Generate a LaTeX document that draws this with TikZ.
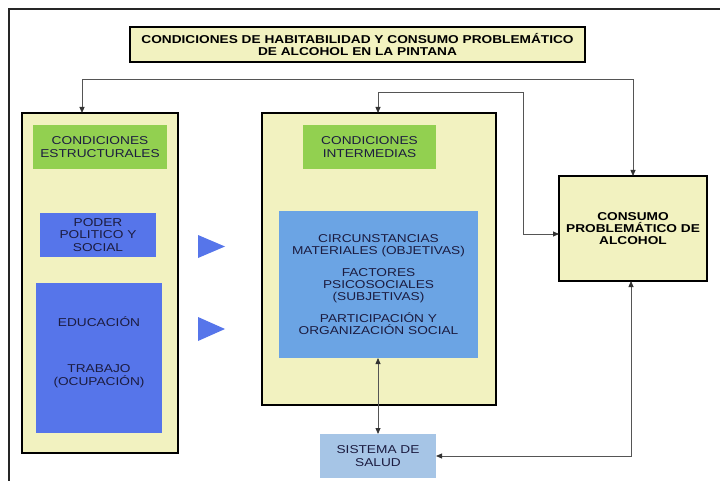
\documentclass[tikz,border=0pt]{standalone}
\usepackage{fontspec}
\setmainfont{Liberation Sans}[FakeStretch=1.2]
\usetikzlibrary{arrows.meta}

\definecolor{paleyellow}{HTML}{F2F2C0}
\definecolor{leafgreen}{HTML}{92D050}
\definecolor{royalblue}{HTML}{5675EA}
\definecolor{skyblue}{HTML}{6BA4E4}
\definecolor{mistblue}{HTML}{A6C5E6}
\definecolor{navytext}{HTML}{1C1C40}
\definecolor{wiregray}{HTML}{555555}

\begin{document}
\begin{tikzpicture}[x=1pt,y=-1pt,
  every node/.style={inner sep=0pt, outer sep=0pt, align=center,
    font=\fontsize{11.4pt}{12.4pt}\selectfont},
  panel/.style={draw=black, line width=2.6pt, fill=paleyellow},
  headbox/.style={fill=leafgreen, text=navytext},
  factbox/.style={fill=royalblue, text=navytext},
  midbox/.style={fill=skyblue, text=navytext},
  healthbox/.style={fill=mistblue, text=navytext},
  boldtext/.style={font=\fontsize{11.4pt}{12.4pt}\selectfont\bfseries},
  pointer/.style={fill=royalblue},
  conn/.style={draw=wiregray, line width=0.8pt,
    {Triangle[length=6pt,width=5pt,color=black!80]}-{Triangle[length=6pt,width=5pt,color=black!80]}}
]
\useasboundingbox (0,0) rectangle (720,481);

% page frame
\draw[line width=2pt, black!85] (9,481) -- (9,9) -- (720,9);

% title
\node[draw=black, line width=2pt, fill=paleyellow, boldtext,
      minimum width=455pt, minimum height=35pt] (title) at (357.5,44.5)
  {CONDICIONES DE HABITABILIDAD Y CONSUMO PROBLEMÁTICO\\DE ALCOHOL EN LA PINTANA};

% structural conditions
\node[panel, minimum width=156pt, minimum height=340pt] (L) at (100,283) {};
\node[headbox, minimum width=134pt, minimum height=44pt] (estr) at (100,147)
  {CONDICIONES\\ESTRUCTURALES};
\node[factbox, minimum width=116pt, minimum height=44pt] (poder) at (98,235)
  {PODER\\POLITICO Y\\SOCIAL};
\node[factbox, minimum width=126pt, minimum height=150pt] (edu) at (99,358) {};
\node[text=navytext] (edutxt) at (99,352) {EDUCACIÓN\\[34pt]TRABAJO\\(OCUPACIÓN)};

% pointers towards the intermediate conditions
\fill[pointer] (198,235) -- (225,246.5) -- (198,258) -- cycle;
\fill[pointer] (198,317) -- (225,329) -- (198,341) -- cycle;

% intermediate conditions
\node[panel, minimum width=234pt, minimum height=292pt] (M) at (379,259) {};
\node[headbox, minimum width=133pt, minimum height=44pt] (inter) at (369.5,147)
  {CONDICIONES\\INTERMEDIAS};
\node[midbox, minimum width=199pt, minimum height=147pt] (circ) at (378.5,284.5)
  {CIRCUNSTANCIAS\\MATERIALES (OBJETIVAS)\\[9pt]FACTORES\\PSICOSOCIALES\\(SUBJETIVAS)\\[9pt]PARTICIPACIÓN Y\\ORGANIZACIÓN SOCIAL};

% health system
\node[healthbox, minimum width=116pt, minimum height=44pt] (salud) at (378,456)
  {SISTEMA DE\\SALUD};

% outcome
\node[panel, line width=2.4pt, boldtext, minimum width=148pt, minimum height=105pt] (C) at (633,228.5)
  {CONSUMO\\PROBLEMÁTICO DE\\ALCOHOL};

% bends of the feedback lines
\coordinate (topbend) at (633,79);
\coordinate (midbend) at (523,92);
\coordinate (cin) at ([yshift=-5.5pt]C.west);

% connectors
\draw[conn] ([xshift=-18pt]L.north) |- (topbend) -- (C.north);
\draw[conn] ([xshift=-1pt]M.north) |- (midbend) |- (cin);
\draw[conn] ([xshift=-0.5pt]circ.south) -- (salud.north);
\draw[conn] (salud.east) -| ([xshift=-2pt]C.south);
\end{tikzpicture}
\end{document}
